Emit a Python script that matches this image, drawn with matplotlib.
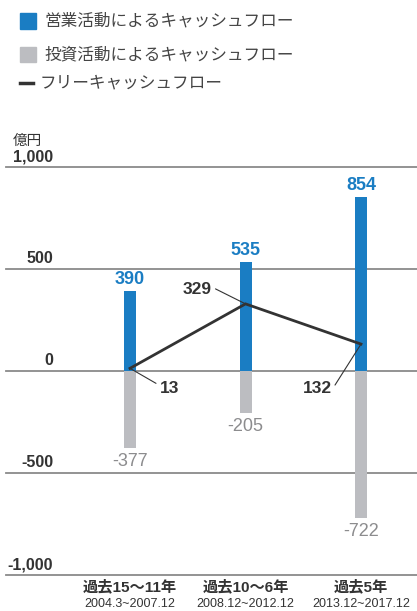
import matplotlib
matplotlib.use("Agg")
import matplotlib.pyplot as plt
from matplotlib.patches import Rectangle
from matplotlib.lines import Line2D

plt.rcParams['font.family'] = ['Liberation Sans', 'Noto Sans CJK JP', 'DejaVu Sans']

# ---- data ----
periods = ["過去15〜11年", "過去10〜6年", "過去5年"]
period_dates = ["2004.3~2007.12", "2008.12~2012.12", "2013.12~2017.12"]
operating_cf = [390, 535, 854]
investing_cf = [-377, -205, -722]
free_cf = [13, 329, 132]
y_ticks = [1000, 500, 0, -500, -1000]
y_tick_labels = ["1,000", "500", "0", "-500", "-1,000"]
legend_labels = ["営業活動によるキャッシュフロー", "投資活動によるキャッシュフロー", "フリーキャッシュフロー"]
unit_label = "億円"

BLUE = "#1a7dc3"
GRAY = "#bcbdc1"
DARK = "#333333"
GRID = "#8a8a8a"
NEG_TXT = "#8c8c8e"

W, H = 417, 611
fig = plt.figure(figsize=(W / 100, H / 100), dpi=100)

# axes: left px 6 -> right 417, y=1000 at px 167, y=-1000 at px 575
ax = fig.add_axes([6 / W, 1 - 575 / H, 411 / W, 408 / H])
ax.set_ylim(-1000, 1000)
x0_px, step_px = 130, 115.5
ax.set_xlim((6 - x0_px) / step_px, (417 - x0_px) / step_px)
ax.axis('off')

def px2x(px):
    return (px - x0_px) / step_px

xs = list(range(len(periods)))
bw = 12 / step_px

for v in y_ticks:
    ax.axhline(v, color=GRID, lw=1.3, zorder=1, clip_on=False)

ax.bar(xs, operating_cf, width=bw, color=BLUE, zorder=2)
ax.bar(xs, investing_cf, width=bw, color=GRAY, zorder=2)
ax.plot(xs, free_cf, color=DARK, lw=2, zorder=3, solid_joinstyle='miter')

# tick labels
for v, lab in zip(y_ticks, y_tick_labels):
    ax.annotate(lab, xy=(px2x(53), v), xytext=(0, 3), textcoords='offset pixels',
                ha='right', va='bottom', fontsize=11.5, fontweight='bold', color=DARK)

ax.annotate(unit_label, xy=(px2x(13), 1000), xytext=(0, 26), textcoords='offset pixels',
            ha='left', va='center', fontsize=10.5, color=DARK,
            family=['Noto Sans CJK JP'])

# bar value labels
for x, v in zip(xs, operating_cf):
    ax.annotate(f"{v}", xy=(x, v), xytext=(0, 3), textcoords='offset pixels',
                ha='center', va='bottom', fontsize=13, fontweight='bold', color=BLUE)
for x, v in zip(xs, investing_cf):
    ax.annotate(f"{v}", xy=(x, v), xytext=(0, -5), textcoords='offset pixels',
                ha='center', va='top', fontsize=13, color=NEG_TXT)

# free cash flow labels with leader lines
fcf_offsets = [  # (line end dx, dy, text dx, dy, ha)
    (26, -15, 30, -20, 'left'),
    (-30, 15, -34, 14, 'right'),
    (-26, -41, -29, -44, 'right'),
]
for x, v, (ldx, ldy, tdx, tdy, ha) in zip(xs, free_cf, fcf_offsets):
    ax.annotate("", xy=(x, v), xytext=(ldx, ldy), textcoords='offset pixels',
                arrowprops=dict(arrowstyle='-', color=DARK, lw=0.8, shrinkA=0, shrinkB=0))
    ax.annotate(f"{v}", xy=(x, v), xytext=(tdx, tdy), textcoords='offset pixels',
                ha=ha, va='center', fontsize=12.5, fontweight='bold', color=DARK)

# category labels
for x, p, d in zip(xs, periods, period_dates):
    xf = (x0_px + x * step_px) / W
    fig.text(xf, 1 - 587 / H, p, ha='center', va='center', fontsize=11,
             fontweight='bold', color=DARK)
    fig.text(xf, 1 - 604 / H, d, ha='center', va='center', fontsize=9, color=DARK)

# legend
fig.add_artist(Rectangle((20 / W, 1 - 28.5 / H), 15.5 / W, 15.5 / H,
                         transform=fig.transFigure, color=BLUE))
fig.add_artist(Rectangle((20 / W, 1 - 62 / H), 15.5 / W, 15.5 / H,
                         transform=fig.transFigure, color=GRAY))
fig.add_artist(Line2D([20 / W, 33 / W], [1 - 83 / H, 1 - 83 / H],
                      transform=fig.transFigure, color=DARK, lw=2.5))
for lab, yc, xl in zip(legend_labels, [21, 55, 83], [44, 44, 40]):
    fig.text(xl / W, 1 - yc / H, lab, ha='left', va='center', fontsize=12,
             color="#444444", family=['Noto Sans CJK JP'])

fig.savefig("out.png", dpi=100)
